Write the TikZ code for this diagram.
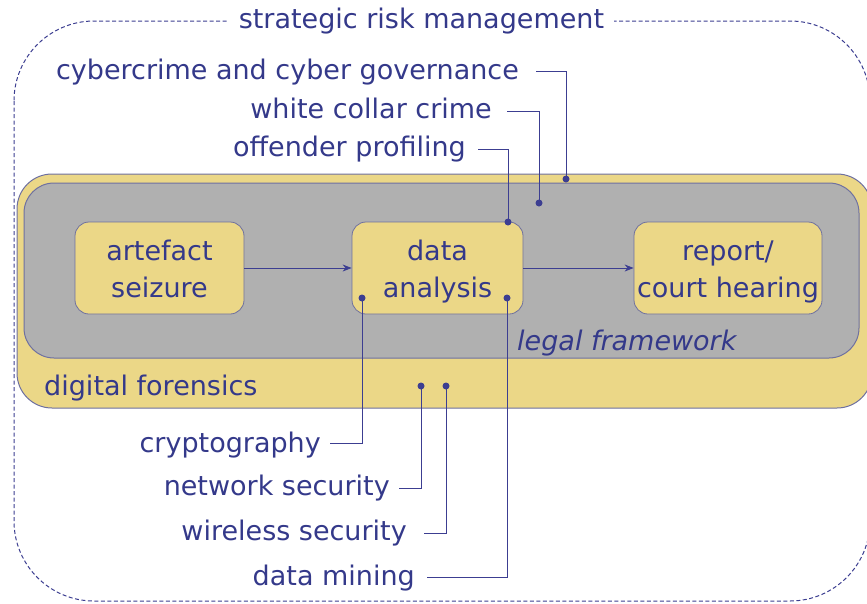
\documentclass[tikz,border=0pt]{standalone}
\usepackage{fontspec}
\setmainfont{DejaVu Sans}
\usetikzlibrary{arrows.meta}
\definecolor{navy}{RGB}{52,57,138}
\definecolor{linec}{RGB}{60,62,145}
\definecolor{yel}{RGB}{235,215,135}
\definecolor{grayf}{RGB}{176,176,176}
\definecolor{bord}{RGB}{110,112,160}
\begin{document}
\begin{tikzpicture}[x=1pt,y=-1pt,
  txt/.style={text=navy,font=\fontsize{27}{37}\selectfont,inner sep=0pt},
  lbl/.style={txt,anchor=base east},
  stepbox/.style={txt,draw=bord,fill=yel,rounded corners=14pt,line width=0.8pt,inner sep=0pt,align=center},
  dotn/.style={circle,fill=linec,inner sep=0pt,minimum size=7pt},
  conn/.style={draw=linec,line width=0.9pt},
  flow/.style={draw=linec,line width=0.9pt,-{Stealth[length=9pt,width=7pt]}}]
\useasboundingbox (0,0) rectangle (867,603);
\clip (0,0) rectangle (867,603);
% outer dashed frame
\draw[draw=linec, dash pattern=on 4pt off 2.5pt, line width=1pt, rounded corners=80pt] (14,21) rectangle (870,601);
\node[txt, fill=white, inner xsep=10pt, inner ysep=2pt, anchor=base] (title) at (421.5,28) {strategic risk management};
% digital forensics and legal framework areas
\draw[draw=bord, fill=yel, line width=1pt, rounded corners=35pt] (17,174) rectangle (872,408);
\draw[draw=bord, fill=grayf, line width=1pt, rounded corners=30pt] (24,183) rectangle (859,358);
\node[txt, anchor=base west] (legal) at (517,350) {\itshape legal framework};
\node[txt, anchor=base west] (forensics) at (44,395) {digital forensics};
% process boxes
\node[stepbox, minimum width=169pt, minimum height=92pt] (seize) at (159.5,268) {\rule{0pt}{27pt}artefact\\seizure\vphantom{y}};
\node[stepbox, minimum width=171pt, minimum height=92pt] (analysis) at (437.5,268) {\rule{0pt}{27pt}data\\analysis};
\node[stepbox, minimum width=188pt, minimum height=92pt] (report) at (728,268) {\rule{0pt}{27pt}report/\\court hearing};
\draw[flow] (seize.east) -- (analysis.west);
\draw[flow] (analysis.east) -- (report.west);
% labels
\node[lbl] (cyber) at (519,79) {cybercrime and cyber governance};
\node[lbl] (white) at (492,118) {white collar crime};
\node[lbl] (offender) at (466,156) {offender profiling};
\node[lbl] (crypto) at (321,452) {cryptography};
\node[lbl] (network) at (390,495) {network security};
\node[lbl] (wireless) at (407,540) {wireless security};
\node[lbl] (mining) at (415,585) {data mining};
% dots
\node[dotn] (d1) at (566,179) {};
\node[dotn] (d2) at (539,203) {};
\node[dotn] (d3) at (508,222) {};
\node[dotn] (d4) at (362,298) {};
\node[dotn] (d5) at (421,386) {};
\node[dotn] (d6) at (446,386) {};
\node[dotn] (d7) at (507,298) {};
% connectors
\draw[conn] ([xshift=17pt,yshift=8pt]cyber.base east) -| (d1.center);
\draw[conn] ([xshift=15pt,yshift=7pt]white.base east) -| (d2.center);
\draw[conn] ([xshift=12pt,yshift=7pt]offender.base east) -| (d3.center);
\draw[conn] ([xshift=9pt,yshift=9pt]crypto.base east) -| (d4.center);
\draw[conn] ([xshift=9pt,yshift=7pt]network.base east) -| (d5.center);
\draw[conn] ([xshift=17pt,yshift=7pt]wireless.base east) -| (d6.center);
\draw[conn] ([xshift=12pt,yshift=8pt]mining.base east) -| (d7.center);
\end{tikzpicture}
\end{document}
